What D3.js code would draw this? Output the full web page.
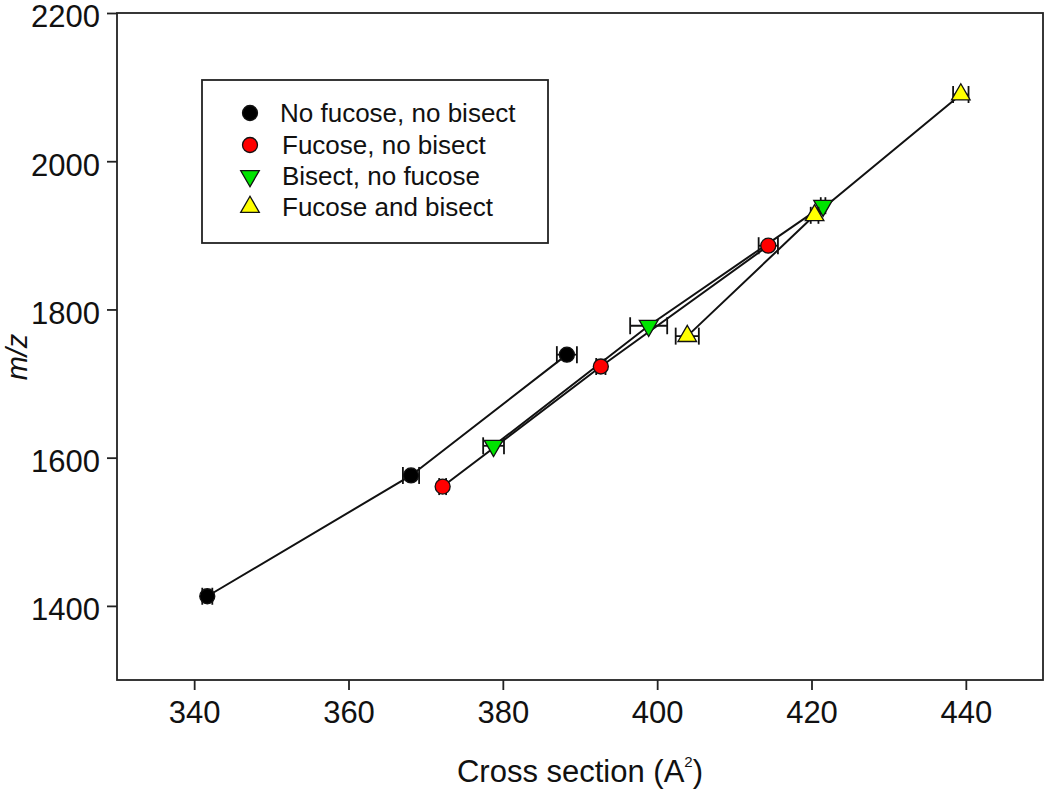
<!DOCTYPE html>
<html><head><meta charset="utf-8">
<script src="https://cdn.jsdelivr.net/npm/d3@7"></script>
<style>
body{margin:0;background:#fff;}
text{font-family:"Liberation Sans",Arial,sans-serif;fill:#111;}
</style></head>
<body><svg id="chart" width="1050" height="794"></svg>
<script>
// ---- data ----
const seriesNames = ["No fucose, no bisect","Fucose, no bisect","Bisect, no fucose","Fucose and bisect"];
const noFucNoBis_x = [341.7, 368.1, 388.3];
const noFucNoBis_y = [1413, 1576, 1739];
const noFucNoBis_err = [0.65, 1.05, 1.3];
const fucNoBis_x = [372.2, 392.7, 414.4];
const fucNoBis_y = [1561, 1723, 1886];
const fucNoBis_err = [0.45, 0.6, 1.25];
const bisNoFuc_x = [378.8, 398.9, 421.5];
const bisNoFuc_y = [1616, 1778, 1940];
const bisNoFuc_err = [1.35, 2.4, 0.3];
const fucBis_x = [403.9, 420.4, 439.35];
const fucBis_y = [1764, 1927, 2090];
const fucBis_err = [1.5, 0.5, 1.0];
const xTicks = [340, 360, 380, 400, 420, 440];
const yTicks = [1400, 1600, 1800, 2000, 2200];

const seriesStyle = [
  {fill:"#000000", shape:"circle"},
  {fill:"#ff0000", shape:"circle"},
  {fill:"#00e400", shape:"down"},
  {fill:"#ffff00", shape:"up"}
];
const series = [
  {x:noFucNoBis_x, y:noFucNoBis_y, e:noFucNoBis_err},
  {x:fucNoBis_x, y:fucNoBis_y, e:fucNoBis_err},
  {x:bisNoFuc_x, y:bisNoFuc_y, e:bisNoFuc_err},
  {x:fucBis_x, y:fucBis_y, e:fucBis_err}
].map((s,i)=>({name:seriesNames[i], ...seriesStyle[i], pts:s.x.map((xv,j)=>({x:xv,y:s.y[j],e:s.e[j]}))}));

const svg = d3.select("#chart");
const L=117, R=1043, T=13, B=680;
const x = d3.scaleLinear().domain([330,450]).range([L,R]);
const y = d3.scaleLinear().domain([1300,2200]).range([B,T]);

// frame
svg.append("rect").attr("x",L).attr("y",T).attr("width",R-L).attr("height",B-T)
  .attr("fill","none").attr("stroke","#222").attr("stroke-width",1.8);

// axes
const xa = svg.append("g").attr("transform",`translate(0,${B})`)
  .call(d3.axisBottom(x).tickValues(xTicks).tickFormat(d3.format("d")).tickSize(10).tickSizeOuter(0).tickPadding(11));
const ya = svg.append("g").attr("transform",`translate(${L},0)`)
  .call(d3.axisLeft(y).tickValues(yTicks).tickFormat(d3.format("d")).tickSize(10).tickSizeOuter(0).tickPadding(7));
[xa,ya].forEach(g=>{
  g.select(".domain").remove();
  g.selectAll("line").attr("stroke","#222").attr("stroke-width",1.8);
  g.selectAll("text").style("font-size","31px").attr("fill","#111");
});
ya.selectAll("text").attr("y",4);

// axis titles
const xt = svg.append("text").attr("x",580).attr("y",782).attr("text-anchor","middle").style("font-size","31px");
xt.append("tspan").text("Cross section (A");
xt.append("tspan").text("2").style("font-size","15px").attr("dy",-15);
xt.append("tspan").text(")").attr("dy",15);
svg.append("text").attr("transform","translate(27,357) rotate(-90)").attr("text-anchor","middle")
  .style("font-size","29px").style("font-style","italic").text("m/z");

const plot = svg.append("g");
const line = d3.line().x(d=>x(d.x)).y(d=>y(d.y));
series.forEach(s=>{
  plot.append("path").attr("d",line(s.pts)).attr("fill","none").attr("stroke","#111").attr("stroke-width",2);
});

function drawMarker(g, shape, fill, cx, cy){
  if(shape==="circle"){
    g.append("circle").attr("cx",cx).attr("cy",cy).attr("r",7.5).attr("fill",fill).attr("stroke","#111").attr("stroke-width",1.3);
  } else {
    const sym = d3.symbol().type(d3.symbolTriangle).size(150);
    g.append("path").attr("d",sym()).attr("transform",`translate(${cx},${cy}) rotate(${shape==="down"?180:0})`)
      .attr("fill",fill).attr("stroke","#111").attr("stroke-width",1.3);
  }
}

series.forEach(s=>{
  s.pts.forEach(p=>{
    const x0=x(p.x-p.e), x1=x(p.x+p.e), cy=y(p.y);
    const eb = plot.append("g").attr("stroke","#111").attr("stroke-width",1.8);
    eb.append("line").attr("x1",x0).attr("x2",x1).attr("y1",cy).attr("y2",cy);
    eb.append("line").attr("x1",x0).attr("x2",x0).attr("y1",cy-8.5).attr("y2",cy+8.5);
    eb.append("line").attr("x1",x1).attr("x2",x1).attr("y1",cy-8.5).attr("y2",cy+8.5);
  });
  s.pts.forEach(p=>drawMarker(plot, s.shape, s.fill, x(p.x), y(p.y)));
});

// legend
const lg = svg.append("g");
lg.append("rect").attr("x",202).attr("y",80).attr("width",346).attr("height",163)
  .attr("fill","#fff").attr("stroke","#222").attr("stroke-width",1.8);
const rowY = [113, 145, 176, 207];
series.forEach((s,i)=>{
  drawMarker(lg, s.shape, s.fill, 250, rowY[i]);
  lg.append("text").attr("x", i===0?280:282).attr("y",rowY[i]+9).style("font-size","26px").text(s.name);
});
</script></body></html>
